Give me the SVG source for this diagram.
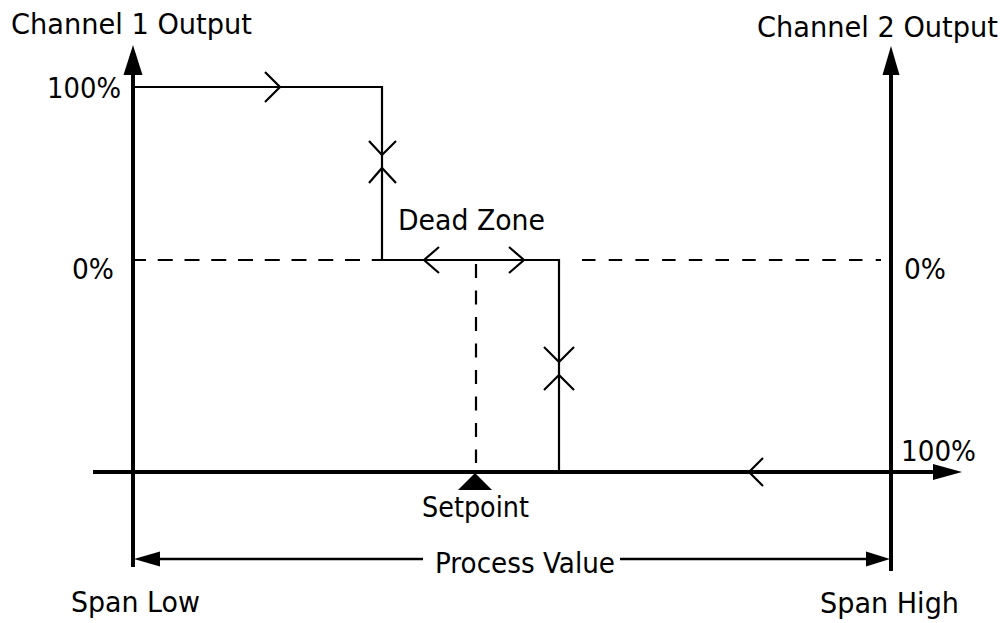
<svg xmlns="http://www.w3.org/2000/svg" width="1007" height="623" viewBox="0 0 1007 623">
  <style>
    .axis { stroke: #000; stroke-width: 4; fill: none; }
    .trace { stroke: #000; stroke-width: 2.2; fill: none; }
    .chev { stroke: #000; stroke-width: 2.2; fill: none; stroke-linejoin: miter; }
    .dash { stroke: #000; stroke-width: 2.2; fill: none; }
    .span { stroke: #000; stroke-width: 2.5; fill: none; }
    .head { fill: #000; stroke: none; }
    .lbl { font-family: "DejaVu Sans", "Liberation Sans", sans-serif; font-size: 28px; fill: #000; }
  </style>
  <rect width="1007" height="623" fill="#fff"/>

  <!-- axes -->
  <g id="axes">
    <line class="axis" x1="133" y1="567" x2="133" y2="72"/>
    <polygon class="head" points="133,45 123.5,75 142.5,75"/>
    <line class="axis" x1="891" y1="571" x2="891" y2="72"/>
    <polygon class="head" points="891,46 882.5,75 899.5,75"/>
    <line class="axis" x1="93" y1="472" x2="936" y2="472"/>
    <polygon class="head" points="962,472 933,464 933,480"/>
  </g>

  <!-- process value span -->
  <g id="span">
    <line class="span" x1="150" y1="559" x2="423" y2="559"/>
    <line class="span" x1="620" y1="559" x2="875" y2="559"/>
    <polygon class="head" points="134,559 160,551.5 160,566.5"/>
    <polygon class="head" points="890,559 866,551.5 866,566.5"/>
  </g>

  <!-- output traces -->
  <g id="connectors">
    <path class="trace" d="M133,87 H382 V260 H559 V472"/>
    <line class="dash" x1="131" y1="260" x2="382" y2="260" stroke-dasharray="15 11.75"/>
    <line class="dash" x1="582" y1="260" x2="881" y2="260" stroke-dasharray="13.5 13.2"/>
    <line class="dash" x1="476" y1="264" x2="476" y2="463" stroke-dasharray="14 12.5"/>
    <polyline class="chev" points="265,72 280,87 265,102"/>
    <polyline class="chev" points="369,141 382,155 396,141"/>
    <polyline class="chev" points="369,183 382,168 396,183"/>
    <polyline class="chev" points="544,347 559,362 574,347"/>
    <polyline class="chev" points="544,390 559,375 574,390"/>
    <polyline class="chev" points="439,247 424,260 439,273"/>
    <polyline class="chev" points="509,247 524,260 509,273"/>
    <polyline class="chev" points="763,458 749,472 763,486"/>
  </g>

  <!-- setpoint marker -->
  <g id="setpoint">
    <polygon class="head" points="475,473 458,490 492,490"/>
    <text class="lbl" x="422" y="517" textLength="107" lengthAdjust="spacingAndGlyphs">Setpoint</text>
  </g>

  <!-- labels -->
  <g id="ch1-label"><text class="lbl" x="11" y="34" textLength="241" lengthAdjust="spacingAndGlyphs">Channel 1 Output</text></g>
  <g id="ch2-label"><text class="lbl" x="757" y="37" textLength="241" lengthAdjust="spacingAndGlyphs">Channel 2 Output</text></g>
  <g id="ch1-100"><text class="lbl" x="47" y="98" textLength="74" lengthAdjust="spacingAndGlyphs">100%</text></g>
  <g id="ch1-0"><text class="lbl" x="72" y="279" textLength="42" lengthAdjust="spacingAndGlyphs">0%</text></g>
  <g id="ch2-0"><text class="lbl" x="904" y="279" textLength="42" lengthAdjust="spacingAndGlyphs">0%</text></g>
  <g id="ch2-100"><text class="lbl" x="901" y="461" textLength="75" lengthAdjust="spacingAndGlyphs">100%</text></g>
  <g id="dead-zone"><text class="lbl" x="398" y="230" textLength="147" lengthAdjust="spacingAndGlyphs">Dead Zone</text></g>
  <g id="process-value"><text class="lbl" x="435" y="573" textLength="180" lengthAdjust="spacingAndGlyphs">Process Value</text></g>
  <g id="span-low"><text class="lbl" x="71" y="612" textLength="129" lengthAdjust="spacingAndGlyphs">Span Low</text></g>
  <g id="span-high"><text class="lbl" x="820" y="613" textLength="139" lengthAdjust="spacingAndGlyphs">Span High</text></g>
</svg>
